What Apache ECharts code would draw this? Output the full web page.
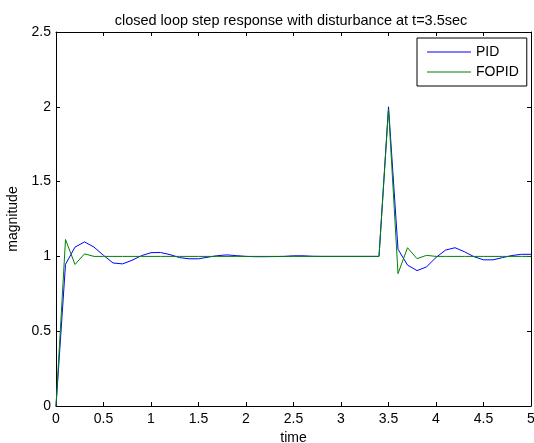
<!DOCTYPE html>
<html>
<head>
<meta charset="utf-8">
<script src="https://cdn.jsdelivr.net/npm/echarts@6/dist/echarts.min.js"></script>
<style>
  html, body { margin: 0; padding: 0; background: #fff; }
  #chart { width: 534px; height: 443px; }
</style>
</head>
<body>
<div id="chart"></div>
<script>
// Sample times (s), step 0.1
const time = [
  0, 0.1, 0.2, 0.3, 0.4, 0.5, 0.6, 0.7, 0.8, 0.9,
  1.0, 1.1, 1.2, 1.3, 1.4, 1.5, 1.6, 1.7, 1.8, 1.9,
  2.0, 2.1, 2.2, 2.3, 2.4, 2.5, 2.6, 2.7, 2.8, 2.9,
  3.0, 3.1, 3.2, 3.3, 3.4, 3.5, 3.6, 3.7, 3.8, 3.9,
  4.0, 4.1, 4.2, 4.3, 4.4, 4.5, 4.6, 4.7, 4.8, 4.9, 5.0
];

// Closed-loop response with PID controller
const pid = [
  0, 0.947, 1.062, 1.097, 1.062, 1.007, 0.956, 0.950, 0.974, 1.005,
  1.025, 1.026, 1.012, 0.992, 0.984, 0.984, 0.995, 1.005, 1.010, 1.005,
  1.000, 0.998, 0.998, 0.999, 1.000, 1.004, 1.004, 1.001, 1.000, 1.000,
  1.000, 1.000, 1.000, 1.000, 1.000, 2.000, 1.048, 0.942, 0.905, 0.930,
  0.993, 1.042, 1.058, 1.031, 0.998, 0.977, 0.977, 0.992, 1.006, 1.014, 1.014
];

// Closed-loop response with fractional-order PID controller
const fopid = [
  0, 1.113, 0.946, 1.017, 1.000, 1.000, 1.000, 1.000, 1.000, 1.000,
  1.000, 1.000, 1.000, 1.000, 1.000, 1.000, 1.000, 1.000, 1.000, 1.000,
  1.000, 1.000, 1.000, 1.000, 1.000, 1.000, 1.000, 1.000, 1.000, 1.000,
  1.000, 1.000, 1.000, 1.000, 1.000, 1.985, 0.885, 1.058, 0.985, 1.007,
  1.000, 1.000, 1.000, 1.000, 1.000, 1.000, 1.000, 1.000, 1.000, 1.000, 1.000
];

const xTicks = [0, 0.5, 1, 1.5, 2, 2.5, 3, 3.5, 4, 4.5, 5];
const yTicks = [0, 0.5, 1, 1.5, 2, 2.5];

const FONT = '"Liberation Sans", Arial, sans-serif';
const pair = (xs, ys) => xs.map((x, i) => [x, ys[i]]);
const tickText = list => v => String(list.find(t => Math.abs(t - v) < 1e-9) ?? v);

const chart = echarts.init(document.getElementById('chart'), null, { renderer: 'canvas' });

const axisLine = { show: true, onZero: false, lineStyle: { color: '#000', width: 1 } };
const tickIn = { show: true, inside: true, length: 4, lineStyle: { color: '#000', width: 1 } };
const lbl = { color: '#000', fontSize: 14, fontFamily: FONT };

chart.setOption({
  animation: false,
  backgroundColor: '#fff',
  title: {
    text: 'closed loop step response with disturbance at t=3.5sec',
    left: 286, top: 8, textAlign: 'center',
    textStyle: { fontSize: 14.5, fontWeight: 'normal', color: '#000', fontFamily: FONT }
  },
  legend: {
    left: 417, top: 38, orient: 'vertical',
    padding: [7, 8, 7, 10], itemGap: 6,
    borderColor: '#000', borderWidth: 1, backgroundColor: '#fff',
    itemWidth: 44, itemHeight: 1, icon: 'rect',
    textStyle: { fontSize: 14, color: '#000', fontFamily: FONT },
    data: ['PID', 'FOPID']
  },
  grid: {
    left: 56, right: 3, top: 32, bottom: 37,
    containLabel: false, outerBoundsMode: 'none'
  },
  xAxis: [
    {
      type: 'value', gridIndex: 0, min: 0, max: 5, interval: 0.5, position: 'bottom',
      name: 'time', nameLocation: 'middle', nameGap: 24,
      nameTextStyle: { fontSize: 14, color: '#000', fontFamily: FONT },
      axisLine, axisTick: tickIn, splitLine: { show: false },
      axisLabel: Object.assign({ margin: 6, formatter: tickText(xTicks) }, lbl)
    },
    {
      type: 'value', gridIndex: 0, min: 0, max: 5, interval: 0.5, position: 'top',
      axisLine, axisTick: tickIn, splitLine: { show: false }, axisLabel: { show: false }
    }
  ],
  yAxis: [
    {
      type: 'value', gridIndex: 0, min: 0, max: 2.5, interval: 0.5, position: 'left',
      name: 'magnitude', nameLocation: 'middle', nameGap: 34, nameRotate: 90,
      nameTextStyle: { fontSize: 14, color: '#000', fontFamily: FONT },
      axisLine, axisTick: tickIn, splitLine: { show: false },
      axisLabel: Object.assign({ margin: 5, formatter: tickText(yTicks) }, lbl)
    },
    {
      type: 'value', gridIndex: 0, min: 0, max: 2.5, interval: 0.5, position: 'right',
      axisLine, axisTick: tickIn, splitLine: { show: false }, axisLabel: { show: false }
    }
  ],
  series: [
    {
      name: 'PID', type: 'line', data: pair(time, pid),
      showSymbol: false, symbol: 'none',
      lineStyle: { color: '#0000ff', width: 1 }, itemStyle: { color: '#0000ff' }, z: 3
    },
    {
      name: 'FOPID', type: 'line', data: pair(time, fopid),
      showSymbol: false, symbol: 'none',
      lineStyle: { color: '#008000', width: 1 }, itemStyle: { color: '#008000' }, z: 4
    }
  ]
});
</script>
</body>
</html>
